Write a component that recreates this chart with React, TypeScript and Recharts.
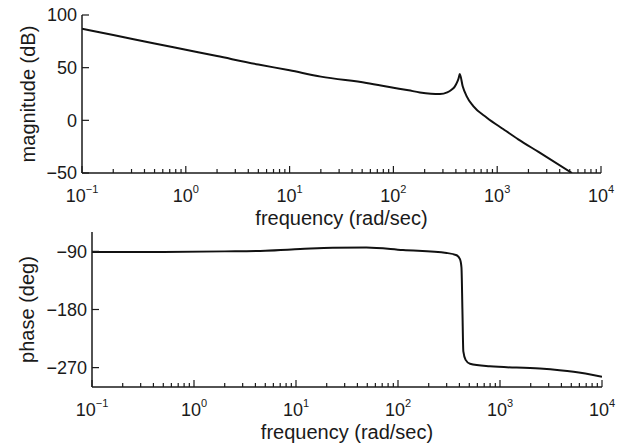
import React from 'react';
import { LineChart, Line, XAxis, YAxis, Label } from 'recharts';

// frequency axis (rad/sec), log scale
const decades = [0.1, 1, 10, 100, 1000, 10000];
const decadeLabels = ['\u22121', '0', '1', '2', '3', '4'];
const minorSteps = [2, 3, 4, 5, 6, 7, 8, 9];

// magnitude plot
const magFreq = [
  0.1, 0.2, 0.5, 1, 2, 5, 10, 20, 55, 100, 140, 180, 230, 281, 330, 363, 390, 408, 425, 436,
  465, 507, 588, 795, 1150, 1595, 2500, 5250,
];
const magDb = [
  87, 81, 73, 67, 61, 53, 47.5, 41.5, 35.5, 31, 28.5, 26.5, 25.3, 25, 26.5, 29, 32, 35.5, 40,
  44, 32.4, 23, 13.5, 2.5, -8.5, -18, -30, -50,
];
const magTicks = [-50, 0, 50, 100];
const magTickLabels = ['\u221250', '0', '50', '100'];

// phase plot
const phaseFreq = [
  0.1, 0.5, 2, 5, 11, 23, 49, 112, 300, 376, 405, 419, 428, 437, 460, 508, 794, 2450, 5260,
  10000,
];
const phaseDeg = [
  -91, -90.8, -90, -89, -86.5, -84.3, -84, -88, -92.5, -96, -102, -115, -180, -245, -258, -264,
  -268, -271.5, -276.5, -284,
];
const phaseTicks = [-270, -180, -90];
const phaseTickLabels = ['\u2212270', '\u2212180', '\u221290'];

const magData = magFreq.map((f, i) => ({ f, v: magDb[i] }));
const phaseData = phaseFreq.map((f, i) => ({ f, v: phaseDeg[i] }));

const minorTicks = decades.slice(0, -1).flatMap((d) => minorSteps.map((s) => d * s));
const xTicks = [...decades, ...minorTicks].sort((a, b) => a - b);

const INK = '#1a1a1a';
const FONT = '"Liberation Sans", Arial, Helvetica, sans-serif';

// eslint-disable-next-line @typescript-eslint/no-explicit-any
const XTick = (props: any) => {
  const { x, y, payload } = props;
  const idx = decades.findIndex((d) => Math.abs(d - payload.value) < d * 1e-6);
  const major = idx >= 0;
  return (
    <g>
      <line x1={x} x2={x} y1={y} y2={y - (major ? 7 : 4)} stroke={INK} strokeWidth={1.2} />
      {major && (
        <text x={x} y={y + 29} textAnchor="middle" fontSize={18} fill={INK} fontFamily={FONT}>
          10
          <tspan dy={-9} fontSize={11}>
            {decadeLabels[idx]}
          </tspan>
        </text>
      )}
    </g>
  );
};

const makeYTick = (ticks: number[], labels: string[]) =>
  // eslint-disable-next-line @typescript-eslint/no-explicit-any
  function YTick(props: any) {
    const { x, y, payload } = props;
    const idx = ticks.indexOf(payload.value);
    return (
      <g>
        <line x1={x} x2={x + 7} y1={y} y2={y} stroke={INK} strokeWidth={1.2} />
        <text
          x={x - 5}
          y={y}
          dy="0.36em"
          textAnchor="end"
          fontSize={18}
          fill={INK}
          fontFamily={FONT}
        >
          {labels[idx]}
        </text>
      </g>
    );
  };

const MagYTick = makeYTick(magTicks, magTickLabels);
const PhaseYTick = makeYTick(phaseTicks, phaseTickLabels);

// eslint-disable-next-line @typescript-eslint/no-explicit-any
const xTitle = (props: any) => {
  const vb = props.viewBox;
  return (
    <text
      x={vb.x + vb.width / 2}
      y={vb.y + 52}
      textAnchor="middle"
      fontSize={20}
      fill={INK}
      fontFamily={FONT}
    >
      frequency (rad/sec)
    </text>
  );
};

const yTitle = (text: string, cx: number) =>
  // eslint-disable-next-line @typescript-eslint/no-explicit-any
  function YTitle(props: any) {
    const vb = props.viewBox;
    const cy = vb.y + vb.height / 2;
    return (
      <text
        x={cx}
        y={cy}
        transform={`rotate(-90 ${cx} ${cy})`}
        textAnchor="middle"
        dominantBaseline="central"
        fontSize={20}
        fill={INK}
        fontFamily={FONT}
      >
        {text}
      </text>
    );
  };

const MagTitle = yTitle('magnitude (dB)', 28);
const PhaseTitle = yTitle('phase (deg)', 27);

export default function App() {
  return (
    <div
      style={{
        position: 'fixed',
        left: 0,
        top: 0,
        width: 629,
        height: 443,
        background: '#fff',
        overflow: 'hidden',
      }}
    >
      <div style={{ position: 'absolute', left: 0, top: 0 }}>
        <LineChart
          width={629}
          height={232}
          data={magData}
          margin={{ top: 15, right: 28, bottom: 0, left: 0 }}
        >
          <XAxis
            dataKey="f"
            type="number"
            scale="log"
            domain={[0.1, 10000]}
            allowDataOverflow
            ticks={xTicks}
            interval={0}
            tick={<XTick />}
            tickLine={false}
            tickSize={0}
            tickMargin={0}
            height={59}
            axisLine={{ stroke: INK, strokeWidth: 1.5 }}
          >
            <Label content={xTitle} />
          </XAxis>
          <YAxis
            type="number"
            domain={[-50, 100]}
            allowDataOverflow
            ticks={magTicks}
            interval={0}
            tick={<MagYTick />}
            tickLine={false}
            tickSize={0}
            tickMargin={0}
            width={82}
            axisLine={{ stroke: INK, strokeWidth: 1.5 }}
          >
            <Label content={MagTitle} />
          </YAxis>
          <Line
            type="monotone"
            dataKey="v"
            stroke="#111"
            strokeWidth={2}
            dot={false}
            isAnimationActive={false}
          />
        </LineChart>
      </div>
      <div style={{ position: 'absolute', left: 0, top: 226 }}>
        <LineChart
          width={629}
          height={217}
          data={phaseData}
          margin={{ top: 6, right: 27, bottom: 0, left: 0 }}
        >
          <XAxis
            dataKey="f"
            type="number"
            scale="log"
            domain={[0.1, 10000]}
            allowDataOverflow
            ticks={xTicks}
            interval={0}
            tick={<XTick />}
            tickLine={false}
            tickSize={0}
            tickMargin={0}
            height={56}
            axisLine={{ stroke: INK, strokeWidth: 1.5 }}
          >
            <Label content={xTitle} />
          </XAxis>
          <YAxis
            type="number"
            domain={[-300, -60]}
            allowDataOverflow
            ticks={phaseTicks}
            interval={0}
            tick={<PhaseYTick />}
            tickLine={false}
            tickSize={0}
            tickMargin={0}
            width={92}
            axisLine={{ stroke: INK, strokeWidth: 1.5 }}
          >
            <Label content={PhaseTitle} />
          </YAxis>
          <Line
            type="monotone"
            dataKey="v"
            stroke="#111"
            strokeWidth={2}
            dot={false}
            isAnimationActive={false}
          />
        </LineChart>
      </div>
    </div>
  );
}
